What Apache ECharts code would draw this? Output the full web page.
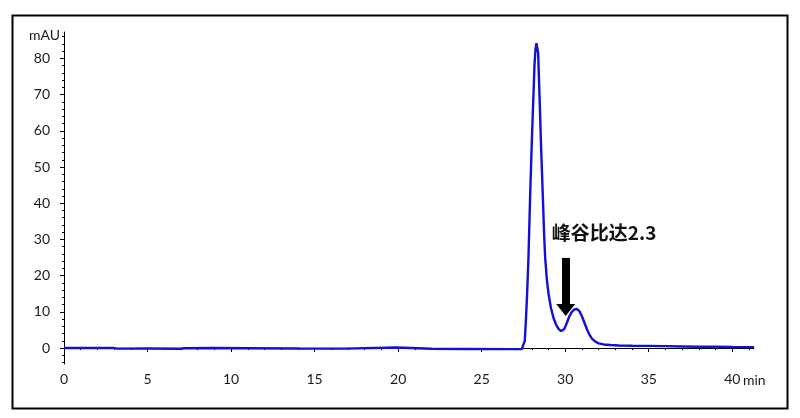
<!DOCTYPE html>
<html><head><meta charset="utf-8">
<script src="https://cdn.jsdelivr.net/npm/echarts@6/dist/echarts.min.js"></script>
<style>html,body{margin:0;padding:0;background:#fff}#c{width:800px;height:418px}</style>
</head><body><div id="c"></div>
<script>
// retention time (min)
const times = [0, 1.5, 3.0, 3.2, 5.0, 7.0, 7.2, 9.0, 11.0, 14.0, 14.2, 16.8, 16.9, 19.9, 20.0, 22.0, 24.0, 27.0, 27.4, 27.5,
  27.58, 27.65, 27.72, 27.80, 27.90, 28.00, 28.10, 28.16, 28.22, 28.28, 28.33, 28.38, 28.46, 28.56, 28.66, 28.74, 28.80, 28.90, 29.00,
  29.15, 29.30, 29.45, 29.60, 29.75, 29.85, 29.95, 30.10, 30.25, 30.40, 30.55, 30.70, 30.85, 31.00, 31.15, 31.30, 31.45, 31.60,
  31.80, 32.00, 32.30, 32.70, 33.20, 34.00, 35.00, 36.00, 37.00, 38.00, 39.00, 40.00, 41.30];
// absorbance (mAU)
const absorb = [0.0, 0.05, 0.0, -0.15, -0.1, -0.2, -0.05, 0.0, -0.05, -0.1, -0.15, -0.15, 0.15, 0.15, -0.2, -0.2, -0.25, -0.3, -0.3, -0.2,
  2, 8, 15, 25, 42, 57, 70, 78, 82.5, 84.2, 84, 81.5, 70, 55, 42, 31, 25, 19, 15,
  11, 8.3, 6.5, 5.3, 4.7, 4.75, 5.3, 7, 8.8, 10, 10.7, 10.8, 10.2, 8.8, 7, 5.2, 3.7, 2.6,
  1.8, 1.3, 1.0, 0.85, 0.7, 0.65, 0.6, 0.55, 0.45, 0.35, 0.35, 0.3, 0.25];
const xTicks = [0, 5, 10, 15, 20, 25, 30, 35, 40];
const yTicks = [0, 10, 20, 30, 40, 50, 60, 70, 80];
const yMinorTicks = [-4, -2, 0, 2, 4, 6, 8, 10, 12, 14, 16, 18, 20, 22, 24, 26, 28, 30, 32, 34, 36, 38, 40, 42, 44, 46, 48, 50, 52, 54, 56, 58, 60, 62, 64, 66, 68, 70, 72, 74, 76, 78, 80, 82, 84, 86];
const annotationText = '峰谷比达2.3';
const xUnit = 'min', yUnit = 'mAU';
const arrowX = 30.03, arrowTop = 24.9, arrowEnd = 10.5;
const textAnchor = [29.2, 31.8];

const data = times.map((t, i) => [t, absorb[i]]);
const chart = echarts.init(document.getElementById('c'));
const font = 'Lato, "Noto Sans", sans-serif';
const yBase = {
  type: 'value', min: -4.4, max: 87.3, position: 'left',
  splitLine: { show: false }
};
chart.setOption({
  animation: false,
  backgroundColor: '#fff',
  grid: { left: 64, right: 46, top: 32, bottom: 54 },
  xAxis: {
    type: 'value', min: 0, max: 41.3, interval: 5,
    axisLine: { lineStyle: { color: '#000', width: 1 } },
    axisTick: { show: true, length: 4, inside: false, customValues: xTicks, lineStyle: { color: '#000' } },
    minorTick: { show: true, splitNumber: 5, length: 2, lineStyle: { color: '#000' } },
    axisLabel: { color: '#1a1a1a', fontSize: 14, fontFamily: font, margin: 8, customValues: xTicks },
    splitLine: { show: false }
  },
  yAxis: [
    Object.assign({}, yBase, {
      name: yUnit, nameLocation: 'end', nameGap: -3,
      nameTextStyle: { color: '#1a1a1a', fontSize: 14, fontFamily: font, align: 'right', verticalAlign: 'middle', padding: [0, 4, 0, 0] },
      axisLine: { show: true, lineStyle: { color: '#000', width: 1 } },
      axisTick: { show: true, length: 4, customValues: yTicks, lineStyle: { color: '#000' } },
      axisLabel: { color: '#1a1a1a', fontSize: 14, fontFamily: font, margin: 14, customValues: yTicks, padding: [0, 0, 6, 0] }
    }),
    Object.assign({}, yBase, {
      axisLine: { show: false },
      axisTick: { show: true, length: 2, customValues: yMinorTicks, lineStyle: { color: '#000' } },
      axisLabel: { show: false }
    })
  ],
  graphic: [{
    type: 'rect', left: 10, top: 13, shape: { width: 775, height: 393 },
    style: { fill: 'none', stroke: '#000', lineWidth: 2 }, silent: true
  }, {
    type: 'text', left: 743, top: 373, silent: true,
    style: { text: xUnit, fill: '#1a1a1a', fontSize: 14, fontFamily: font }
  }],
  series: [{
    type: 'line', data: data, showSymbol: false, symbol: 'none',
    lineStyle: { color: '#1010d8', width: 2.4 },
    markLine: {
      silent: true, animation: false,
      symbol: ['none', 'triangle'], symbolSize: [19, 12],
      label: { show: false },
      lineStyle: { color: '#000', width: 8, type: 'solid' },
      itemStyle: { color: '#000' },
      data: [[{ coord: [arrowX, arrowTop] }, { coord: [arrowX, arrowEnd] }]]
    },
    markPoint: {
      silent: true, symbol: 'circle', symbolSize: 0,
      data: [{ coord: textAnchor, value: annotationText }],
      label: {
        show: true, position: 'right', distance: 0, formatter: annotationText,
        color: '#111', fontSize: 19, fontWeight: 'bold', fontFamily: '"Noto Sans CJK SC", sans-serif'
      }
    }
  }]
});
</script></body></html>
